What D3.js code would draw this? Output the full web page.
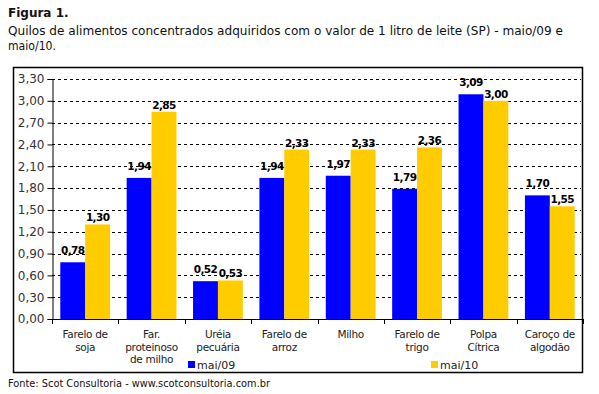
<!DOCTYPE html>
<html>
<head>
<meta charset="utf-8">
<script src="https://cdn.jsdelivr.net/npm/d3@7"></script>
<style>
  body { margin: 0; background: #fff; }
  svg { display: block; font-family: "DejaVu Sans", Verdana, sans-serif; }
</style>
</head>
<body>
<svg id="chart" width="599" height="394"></svg>
<script>
// data
const categories = [
    ["Farelo de", "soja"],
    ["Far.", "proteinoso", "de milho"],
    ["Uréia", "pecuária"],
    ["Farelo de", "arroz"],
    ["Milho"],
    ["Farelo de", "trigo"],
    ["Polpa", "Cítrica"],
    ["Caroço de", "algodão"]
];
const seriesNames = ["mai/09", "mai/10"];
const mai09 = [0.78, 1.94, 0.52, 1.94, 1.97, 1.79, 3.09, 1.70];
const mai10 = [1.30, 2.85, 0.53, 2.33, 2.33, 2.36, 3.00, 1.55];
const yTicks = [0, 0.3, 0.6, 0.9, 1.2, 1.5, 1.8, 2.1, 2.4, 2.7, 3.0, 3.3];

const colors = ["#0000ff", "#ffcc00"];
const fmt = v => d3.format(".2f")(v).replace(".", ",");

const svg = d3.select("#chart");

// titles
svg.append("text").attr("x", 8).attr("y", 17)
    .style("font-size", "12px").style("font-weight", "bold").attr("fill", "#111")
    .text("Figura 1.");
svg.append("text").attr("x", 8).attr("y", 35)
    .style("font-size", "12px").attr("fill", "#111")
    .attr("textLength", 555).attr("lengthAdjust", "spacingAndGlyphs")
    .text("Quilos de alimentos concentrados adquiridos com o valor de 1 litro de leite (SP) - maio/09 e");
svg.append("text").attr("x", 8).attr("y", 50)
    .style("font-size", "12px").attr("fill", "#111")
    .attr("textLength", 48).attr("lengthAdjust", "spacingAndGlyphs")
    .text("maio/10.");

// frame
svg.append("rect")
    .attr("x", 13.5).attr("y", 67.5)
    .attr("width", 569).attr("height", 305)
    .attr("fill", "none").attr("stroke", "#000").attr("stroke-width", 1.5);

const plotL = 52, plotR = 583, plotT = 79, plotB = 319;

const x0 = d3.scaleBand()
    .domain(d3.range(categories.length))
    .range([plotL, plotR])
    .paddingInner(0.25)
    .paddingOuter(0.125);
const x1 = d3.scaleBand()
    .domain([0, 1])
    .range([0, x0.bandwidth()]);
const y = d3.scaleLinear().domain([0, 3.3]).range([plotB, plotT]);

// grid
svg.append("g").selectAll("line")
    .data(yTicks.slice(1))
    .join("line")
    .attr("x1", plotL).attr("x2", plotR - 2)
    .attr("y1", d => Math.round(y(d)) + 0.5).attr("y2", d => Math.round(y(d)) + 0.5)
    .attr("stroke", "#000").attr("stroke-dasharray", "3,3");

// y axis
const yAxis = svg.append("g")
    .attr("transform", `translate(${plotL + 0.5},0)`)
    .call(d3.axisLeft(y).tickValues(yTicks).tickFormat(fmt).tickSize(5).tickPadding(3));
yAxis.select(".domain").attr("stroke", "#000");
yAxis.selectAll(".tick line").attr("stroke", "#000");
yAxis.selectAll("text").style("font-size", "12px").attr("fill", "#333")
    .style("font-family", "'DejaVu Sans', Verdana, sans-serif");

// bars
const rows = categories.map((c, i) => [mai09[i], mai10[i]]);
const groups = svg.append("g").selectAll("g")
    .data(rows)
    .join("g")
    .attr("transform", (d, i) => `translate(${x0(i)},0)`);

groups.selectAll("rect")
    .data(d => d)
    .join("rect")
    .attr("x", (d, j) => x1(j))
    .attr("y", d => y(d))
    .attr("width", x1.bandwidth())
    .attr("height", d => y(0) - y(d))
    .attr("fill", (d, j) => colors[j]);

groups.selectAll("text")
    .data(d => d)
    .join("text")
    .attr("x", (d, j) => x1(j) + x1.bandwidth() / 2)
    .attr("y", (d, j) => y(d) - (j === 0 ? 8 : 3))
    .attr("text-anchor", "middle")
    .style("font-size", "10.5px").style("font-weight", "bold")
    .style("letter-spacing", "-0.6px").attr("fill", "#000")
    .text(fmt);

// x axis
const xAxis = svg.append("g");
xAxis.append("line")
    .attr("x1", plotL).attr("x2", plotR)
    .attr("y1", plotB + 0.5).attr("y2", plotB + 0.5)
    .attr("stroke", "#000");
xAxis.selectAll(".xt")
    .data(d3.range(categories.length + 1))
    .join("line")
    .attr("class", "xt")
    .attr("x1", i => Math.round(plotL + i * x0.step()) + 0.5)
    .attr("x2", i => Math.round(plotL + i * x0.step()) + 0.5)
    .attr("y1", plotB).attr("y2", plotB + 5)
    .attr("stroke", "#000");

const catLabels = svg.append("g").selectAll("text")
    .data(categories)
    .join("text")
    .attr("x", (d, i) => x0(i) + x0.bandwidth() / 2)
    .attr("y", 338)
    .attr("text-anchor", "middle")
    .style("font-size", "10.5px").style("letter-spacing", "-0.3px")
    .attr("fill", "#222");
catLabels.selectAll("tspan")
    .data(d => d)
    .join("tspan")
    .attr("x", function () { return this.parentNode.getAttribute("x"); })
    .attr("dy", (d, k) => k === 0 ? 0 : 12.5)
    .text(d => d);

// legend
const legendX = [188, 431];
const legend = svg.append("g").selectAll("g")
    .data(seriesNames)
    .join("g")
    .attr("transform", (d, i) => `translate(${legendX[i]},361)`);
legend.append("rect").attr("width", 7).attr("height", 7)
    .attr("fill", (d, i) => colors[i]);
legend.append("text").attr("x", 9).attr("y", 8)
    .style("font-size", "11px").attr("fill", "#222")
    .text(d => d);

// source
svg.append("text").attr("x", 8).attr("y", 387)
    .style("font-size", "11px").attr("fill", "#111")
    .attr("textLength", 262).attr("lengthAdjust", "spacingAndGlyphs")
    .text("Fonte: Scot Consultoria - www.scotconsultoria.com.br");
</script>
</body>
</html>
